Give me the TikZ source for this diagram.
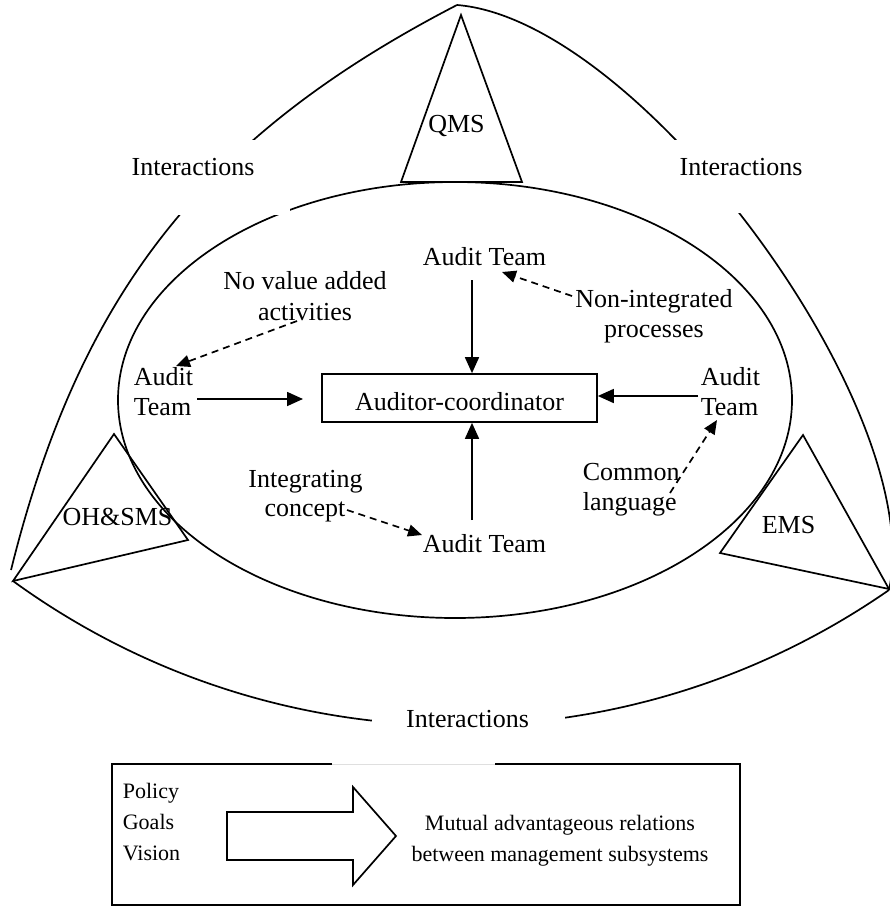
\documentclass[tikz,border=0pt]{standalone}
\usepackage{fontspec}
\setmainfont{Liberation Serif}
\usetikzlibrary{arrows.meta}
\begin{document}
\begin{tikzpicture}[x=1pt,y=-1pt,line width=1.7pt,
  lbl/.style={font=\fontsize{26}{30}\selectfont,inner sep=0pt,anchor=base},
  lblw/.style={lbl,anchor=base west},
  sml/.style={font=\fontsize{22}{31}\selectfont,inner sep=0pt,anchor=base},
  smlw/.style={sml,anchor=base west},
  solidarr/.style={-{Triangle[length=16pt,width=14pt]}},
  dasharr/.style={dash pattern=on 7pt off 5pt,-{Triangle[length=14pt,width=12pt]}},
  patch/.style={fill=white,draw=none}]
\useasboundingbox (0,0) rectangle (890,908);
\fill[white] (0,0) rectangle (890,908);

% outer curved triangle
\coordinate (T) at (457,5);
\coordinate (Ltop) at (11,570);
\coordinate (L) at (13,581);
\coordinate (R) at (889,590);
\draw (Ltop) .. controls (80,293) and (204,136) .. (T);
\draw (T) .. controls (640,19.5) and (928,410) .. (R);
\draw (L) .. controls (273,770) and (624,774) .. (R);

% central ellipse
\draw (455,400) ellipse [x radius=337pt, y radius=218pt];

% white patches behind the interaction labels
\path[patch] (125,140) rectangle (290,215);
\path[patch] (660,140) rectangle (815,213);
\path[patch] (372,700) rectangle (565,745);

% subsystem triangles
\draw[line join=miter] (461,15) -- (522,182) -- (401,182) -- cycle;
\draw[line join=miter] (114,434) -- (188,540) -- (13,581) -- cycle;
\draw[line join=miter] (803,435) -- (889,589) -- (720,553) -- cycle;

% labels
\node[lbl] (intL) at (193,175) {Interactions};
\node[lbl] (intR) at (741,175) {Interactions};
\node[lbl] (intB) at (467.5,727) {Interactions};
\node[lbl] (qms) at (456.5,132) {QMS};
\node[lbl] (ohs) at (117.5,525) {OH\&SMS};
\node[lbl] (ems) at (788.5,533) {EMS};
\node[lbl] (atT) at (484.5,265) {Audit Team};
\node[lbl] (atB) at (484.5,552) {Audit Team};
\node[lblw] (atL1) at (133,385) {Audit};
\node[lblw] (atL2) at (133,415) {Team};
\node[lblw] (atR1) at (700,385) {Audit};
\node[lblw] (atR2) at (700,415) {Team};
\node[lbl] (nv1) at (305,289) {No value added};
\node[lbl] (nv2) at (305,320) {activities};
\node[lbl] (ni1) at (654,307) {Non-integrated};
\node[lbl] (ni2) at (654,337) {processes};
\node[lbl] (ic1) at (305.5,487) {Integrating};
\node[lbl] (ic2) at (305,516) {concept};
\node[lblw] (cl1) at (582,480) {Common};
\node[lblw] (cl2) at (582,510) {language};
\node[draw,font=\fontsize{26}{30}\selectfont,inner sep=0pt,minimum width=275pt,
      minimum height=48pt,text height=24pt,text depth=0pt] (coord) at (459.5,398) {Auditor-coordinator};

% solid arrows
\coordinate (tS) at (472,280);
\draw[solidarr] (tS) -- (tS |- coord.north);
\coordinate (bS) at (472,520);
\draw[solidarr] (bS) -- (bS |- coord.south);
\coordinate (lS) at (197,399);
\coordinate (lE) at (303,399);
\draw[solidarr] (lS) -- (lE);
\coordinate (rS) at (698,396);
\draw[solidarr] (rS) -- (rS -| coord.east);

% dashed arrows
\coordinate (nvS) at (297,321); \coordinate (nvE) at (176,366);
\draw[dasharr] (nvS) -- (nvE);
\coordinate (niS) at (572,296); \coordinate (niE) at (502,272);
\draw[dasharr] (niS) -- (niE);
\coordinate (icS) at (347,510); \coordinate (icE) at (422,535);
\draw[dasharr] (icS) -- (icE);
\coordinate (clS) at (670,493); \coordinate (clE) at (717,420);
\draw[dasharr] (clS) -- (clE);

% bottom box
\draw (332,764) -- (112,764) -- (112,905) -- (740,905) -- (740,764) -- (495,764);
\draw[gray!25,line width=0.8pt] (332,764) -- (495,764);
\node[smlw] (p1) at (122,798) {Policy};
\node[smlw] (p2) at (122,829) {Goals};
\node[smlw] (p3) at (122,860) {Vision};
\node[sml] (m1) at (560,830) {Mutual advantageous relations};
\node[sml] (m2) at (560,861) {between management subsystems};
\draw[line join=miter] (227,812) -- (353,812) -- (353,787) -- (396,836) -- (353,885) -- (353,860) -- (227,860) -- cycle;
\end{tikzpicture}
\end{document}
